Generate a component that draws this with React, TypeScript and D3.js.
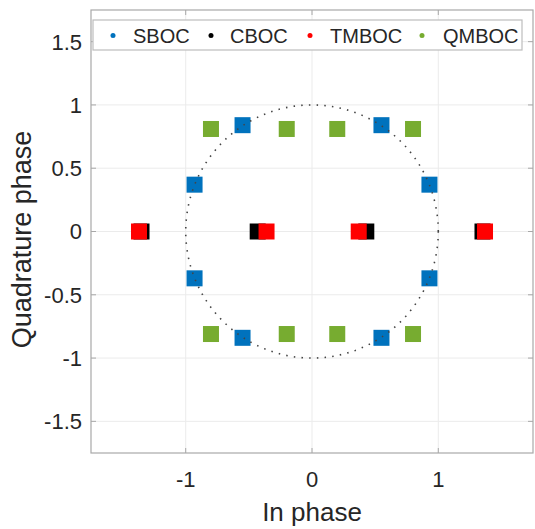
import React from "react";
import * as d3 from "d3";

const xTicks = [-1, 0, 1];
const yTicks = [-1.5, -1, -0.5, 0, 0.5, 1, 1.5];
const yTickLabels = ["-1.5", "-1", "-0.5", "0", "0.5", "1", "1.5"];

const sbocX = [0.55, 0.93, 0.93, 0.55, -0.55, -0.93, -0.93, -0.55];
const sbocY = [0.84, 0.37, -0.37, -0.84, -0.84, -0.37, 0.37, 0.84];

const cbocX = [-1.35, -0.43, 0.43, 1.35];
const cbocY = [0, 0, 0, 0];

const tmbocX = [-1.37, -0.36, 0.37, 1.37];
const tmbocY = [0, 0, 0, 0];

const qmbocX = [-0.8, -0.2, 0.2, 0.8, -0.8, -0.2, 0.2, 0.8];
const qmbocY = [0.81, 0.81, 0.81, 0.81, -0.81, -0.81, -0.81, -0.81];

const seriesNames = ["SBOC", "CBOC", "TMBOC", "QMBOC"];
const seriesColors = ["#0072BD", "#000000", "#FF0000", "#77AC30"];

const W = 535;
const H = 529;
const L = 91, R = 533, T = 10, B = 453;
const FONT = "'Liberation Sans', Arial, Helvetica, sans-serif";

export default function App() {
  const x = d3.scaleLinear().domain([-1.75, 1.75]).range([L, R]);
  const y = d3.scaleLinear().domain([-1.75, 1.75]).range([B, T]);
  const sz = 16;

  const series = [
    { xs: sbocX, ys: sbocY, c: seriesColors[0] },
    { xs: cbocX, ys: cbocY, c: seriesColors[1] },
    { xs: tmbocX, ys: tmbocY, c: seriesColors[2] },
    { xs: qmbocX, ys: qmbocY, c: seriesColors[3] },
  ];

  const circlePts = d3.range(0, 361, 2).map((a) => [Math.cos((a * Math.PI) / 180), Math.sin((a * Math.PI) / 180)]);
  const circlePath = d3
    .line<number[]>()
    .x((d) => x(d[0]))
    .y((d) => y(d[1]))(circlePts) as string;

  const legendItems = [
    { mx: 113, tx: 133 },
    { mx: 211, tx: 230 },
    { mx: 310, tx: 330 },
    { mx: 422, tx: 443 },
  ];

  const axisColor = "#a8a8a8";

  return (
    <svg width={W} height={H} style={{ position: "absolute", left: 0, top: 0, background: "#fff" }}>
      <rect x={0} y={0} width={W} height={H} fill="#fff" />
      {/* grid */}
      {xTicks.map((t) => (
        <line key={"gx" + t} x1={x(t)} x2={x(t)} y1={T} y2={B} stroke="#ebebeb" strokeWidth={1} />
      ))}
      {yTicks.map((t) => (
        <line key={"gy" + t} x1={L} x2={R} y1={y(t)} y2={y(t)} stroke="#ebebeb" strokeWidth={1} />
      ))}
      {/* markers */}
      {series.map((s, si) =>
        s.xs.map((vx, i) => (
          <rect
            key={si + "-" + i}
            x={x(vx) - sz / 2}
            y={y(s.ys[i]) - sz / 2}
            width={sz}
            height={sz}
            fill={s.c}
          />
        ))
      )}
      {/* dotted unit circle */}
      <path d={circlePath} fill="none" stroke="#444" strokeWidth={1.6} strokeDasharray="1.5 6.2" />
      {/* axes box */}
      <rect x={L} y={T} width={R - L} height={B - T} fill="none" stroke={axisColor} strokeWidth={1.2} />
      {/* ticks */}
      {xTicks.map((t) => (
        <g key={"tx" + t}>
          <line x1={x(t)} x2={x(t)} y1={B} y2={B - 5} stroke={axisColor} />
          <line x1={x(t)} x2={x(t)} y1={T} y2={T + 5} stroke={axisColor} />
          <text x={x(t)} y={487} textAnchor="middle" fontFamily={FONT} fontSize={22} fill="#262626">
            {t}
          </text>
        </g>
      ))}
      {yTicks.map((t, i) => (
        <g key={"ty" + t}>
          <line x1={L} x2={L + 5} y1={y(t)} y2={y(t)} stroke={axisColor} />
          <line x1={R} x2={R - 5} y1={y(t)} y2={y(t)} stroke={axisColor} />
          <text x={82} y={y(t)} dy="0.36em" textAnchor="end" fontFamily={FONT} fontSize={22} fill="#262626">
            {yTickLabels[i]}
          </text>
        </g>
      ))}
      {/* axis labels */}
      <text x={x(0)} y={521} textAnchor="middle" fontFamily={FONT} fontSize={26} fill="#262626">
        In phase
      </text>
      <text
        transform={`translate(31,${(T + B) / 2 + 8}) rotate(-90)`}
        textAnchor="middle"
        fontFamily={FONT}
        fontSize={27}
        fill="#262626"
      >
        Quadrature phase
      </text>
      {/* legend */}
      <rect x={93} y={20} width={429} height={30} fill="#fff" stroke="#bdbdbd" strokeWidth={1.2} />
      {legendItems.map((it, i) => (
        <g key={"lg" + i}>
          <circle cx={it.mx} cy={35.5} r={2.5} fill={seriesColors[i]} />
          <text x={it.tx} y={35.5} dy="0.36em" fontFamily={FONT} fontSize={20} fill="#262626">
            {seriesNames[i]}
          </text>
        </g>
      ))}
    </svg>
  );
}
